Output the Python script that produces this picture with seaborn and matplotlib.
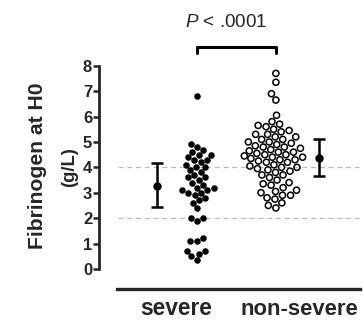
import numpy as np
import pandas as pd
import matplotlib.pyplot as plt
import seaborn as sns

# values
groups = ["severe", "non-severe"]
severe = [6.8, 4.9, 4.8, 4.7, 4.6, 4.5, 4.5, 4.4, 4.3, 4.3,
          4.2, 4.1, 4.0, 4.0, 3.9, 3.8, 3.7, 3.6, 3.6, 3.5,
          3.4, 3.3, 3.2, 3.2, 3.1, 3.1, 3.0, 3.0, 2.9, 2.8,
          2.7, 2.6, 2.4, 2.0, 2.0, 1.9, 1.2, 1.1, 1.1, 0.7,
          0.7, 0.6, 0.5, 0.35]
non_severe = [7.7, 7.35, 6.9, 6.65, 6.05, 5.8, 5.7, 5.65, 5.6, 5.5,
              5.45, 5.4, 5.3, 5.3, 5.2, 5.2, 5.1, 5.1, 5.0, 5.0,
              4.95, 4.9, 4.85, 4.8, 4.8, 4.75, 4.7, 4.65, 4.6, 4.6,
              4.55, 4.5, 4.5, 4.45, 4.4, 4.4, 4.35, 4.3, 4.3, 4.25,
              4.2, 4.2, 4.1, 4.05, 4.0, 4.0, 3.95, 3.9, 3.85, 3.8,
              3.7, 3.7, 3.6, 3.5, 3.4, 3.35, 3.3, 3.2, 3.1, 3.05,
              3.0, 2.9, 2.9, 2.8, 2.75, 2.6, 2.5, 2.4]

# summary bars next to each group (center, low, high)
bar_center = [3.28, 4.38]
bar_low = [2.45, 3.66]
bar_high = [4.16, 5.10]
ref_lines = [2, 4]
p_text = "$P$ < .0001"

df = pd.DataFrame({
    "group": ["severe"] * len(severe) + ["non-severe"] * len(non_severe),
    "fib": severe + non_severe,
})

sns.set_style("ticks")
plt.rcParams['font.family'] = ['Liberation Sans', 'DejaVu Sans']
plt.rcParams['mathtext.fontset'] = 'custom'
plt.rcParams['mathtext.it'] = 'Liberation Sans:italic'
plt.rcParams['mathtext.rm'] = 'Liberation Sans'

W, H = 363, 320
fig = plt.figure(figsize=(W / 100, H / 100), dpi=100)
ax = fig.add_axes([0.273, 0.097, 0.724, 0.872])

# reference lines
for v in ref_lines:
    ax.plot([-1.0, 2.05], [v, v], color="#bbbbbb", lw=0.9, ls=(0, (4, 3)), zorder=1)

# dots
sns.swarmplot(data=df[df.group == "severe"], x="group", y="fib", order=groups,
              color="black", size=4.7, ax=ax, zorder=3)
sns.swarmplot(data=df[df.group == "non-severe"], x="group", y="fib", order=groups,
              color="black", size=4.4, linewidth=1.1, ax=ax, zorder=3)
ax.collections[-1].set_facecolor("none")
ax.collections[-1].set_edgecolor("black")

# summary bars beside the dots
bar_x = [-0.51, 1.54]
c = np.array(bar_center)
ax.errorbar(bar_x, c, yerr=[c - np.array(bar_low), np.array(bar_high) - c],
            fmt="o", color="black", ms=5, elinewidth=1.8, capsize=4, capthick=1.8, zorder=4)

# significance bracket
ax.plot([0, 0, 1, 1], [8.5, 8.74, 8.74, 8.5], color="black", lw=2.2, clip_on=False)

ax.set_xlim(-1.24, 2.09)
ax.set_ylim(-0.79, 10.2)
ax.set_yticks(range(0, 9))
ax.set_xticks([])
ax.spines["left"].set_bounds(0, 8)
ax.spines["bottom"].set_bounds(-1.01, 2.06)
ax.spines["left"].set_linewidth(2)
ax.spines["bottom"].set_linewidth(2.4)
sns.despine(ax=ax)
ax.tick_params(axis="y", length=4, width=1.8, pad=1, labelsize=12)
for t in ax.get_yticklabels():
    t.set_fontweight("bold")
ax.set_xlabel("")
ax.set_ylabel("")


def px(x, y):
    return x / W, 1 - y / H


# texts, sized to the spans measured on the reference (pixels)
texts = [
    (fig.text(*px(176, 315), "severe", ha="center", va="baseline", fontsize=14, fontweight="bold"), 72, "w"),
    (fig.text(*px(299, 315), "non-severe", ha="center", va="baseline", fontsize=14, fontweight="bold"), 118, "w"),
    (fig.text(*px(226, 27), p_text, ha="center", va="baseline", fontsize=11), 83, "w"),
    (fig.text(*px(38, 166), "Fibrinogen at H0", rotation=90, ha="center", va="center",
              fontsize=14, fontweight="bold"), 167, "h"),
    (fig.text(*px(70, 167), "(g/L)", rotation=90, ha="center", va="center",
              fontsize=10, fontweight="bold"), 40, "h"),
]
fig.canvas.draw()
r = fig.canvas.get_renderer()
for t, target, d in texts:
    bb = t.get_window_extent(r)
    size = bb.width if d == "w" else bb.height
    t.set_fontsize(t.get_fontsize() * target / size)

fig.savefig("out.png", dpi=100)
